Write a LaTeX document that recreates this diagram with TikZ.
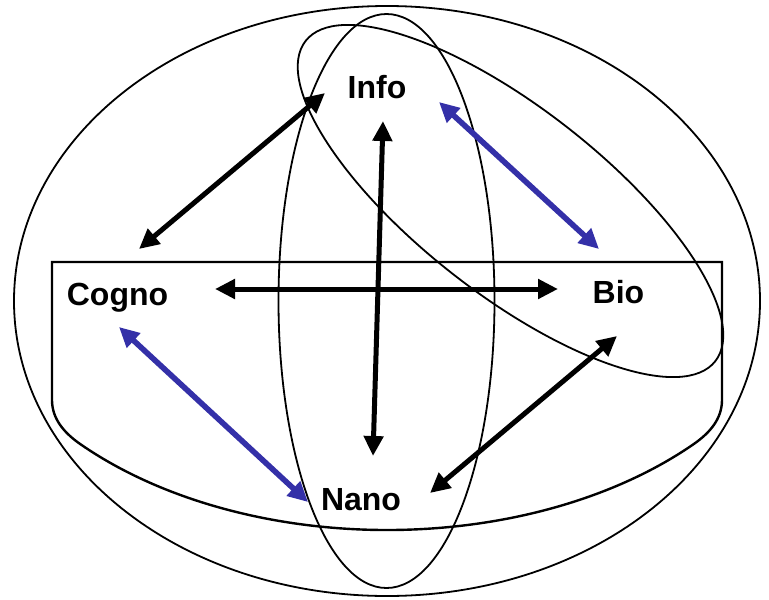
\documentclass[tikz,border=0pt]{standalone}
\usepackage{fontspec}
\setmainfont{Liberation Sans}
\usetikzlibrary{arrows.meta}
\definecolor{linkblue}{RGB}{52,48,168}
\begin{document}
\begin{tikzpicture}[x=1pt, y=-1pt,
  ring/.style={line width=1.8pt},
  link/.style={line width=5pt, {Triangle[length=20pt,width=19pt]}-{Triangle[length=20pt,width=19pt]}},
  bluelink/.style={link, draw=linkblue, fill=linkblue, line width=5.6pt},
  lbl/.style={font=\fontsize{32}{38}\selectfont\bfseries, anchor=base, inner sep=0pt}]
  \useasboundingbox (0,0) rectangle (769,600);
  % outer ellipse
  \draw[ring] (387,301) ellipse [x radius=373, y radius=295];
  % bowl
  \draw[ring, line width=2.4pt] (722,262) -- (52,262) -- (52,400)
    .. controls (52,418) and (63,432) .. (80,443.9)
    arc[start angle=137.26, end angle=42.74, x radius=418, y radius=268]
    .. controls (711,432) and (722,418) .. (722,400) -- cycle;
  % upright ellipse
  \draw[ring] (386.5,301) ellipse [x radius=108, y radius=287];
  % tilted ellipse
  \draw[ring, rotate around={-38:(510.5,201)}] (510.5,201) ellipse [x radius=260, y radius=93];
  % labels
  \node[lbl] (info) at (377,98) {Info};
  \node[lbl] (cogno) at (117.5,305) {Cogno};
  \node[lbl] (bio) at (618.5,303) {Bio};
  \node[lbl] (nano) at (361,510) {Nano};
  % arrow ends
  \coordinate (infoC) at (325,93);   \coordinate (cognoI) at (139,249);
  \coordinate (infoN) at (383,121);  \coordinate (nanoI) at (373,456);
  \coordinate (cognoB) at (215,289); \coordinate (bioC) at (558,289);
  \coordinate (nanoB) at (430,493);  \coordinate (bioN) at (617,336);
  \coordinate (infoB) at (439,102);  \coordinate (bioI) at (599,249);
  \coordinate (cognoN) at (119,327); \coordinate (nanoC) at (308,502);
  % arrows
  \draw[link] (infoC) -- (cognoI);
  \draw[link] (infoN) -- (nanoI);
  \draw[link] (cognoB) -- (bioC);
  \draw[link] (nanoB) -- (bioN);
  \draw[bluelink] (infoB) -- (bioI);
  \draw[bluelink] (cognoN) -- (nanoC);
\end{tikzpicture}
\end{document}
